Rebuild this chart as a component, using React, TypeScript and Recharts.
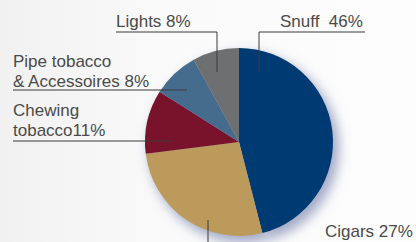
import { PieChart, Pie, Cell, Sector } from "recharts";

// market share by category, clockwise from 12 o'clock
const categories = ["Snuff", "Cigars", "Chewing tobacco", "Pipe tobacco & Accessoires", "Lights"];
const shares = [46, 27, 11, 8, 8];
const labelText = [
  ["Snuff  46%"],
  ["Cigars 27%"],
  ["Chewing", "tobacco11%"],
  ["Pipe tobacco", "& Accessoires 8%"],
  ["Lights 8%"],
];
const colors = ["#003a72", "#bb9a5c", "#79122b", "#466c8d", "#6e6f71"];

const data = categories.map((name, i) => ({ name, value: shares[i], lines: labelText[i] }));

// label placement relative to pie centre
type Layout = {
  tx: number;
  ty: number;
  line: [number, number][];
};
const layout: Record<string, Layout> = {
  Snuff: { tx: 41, ty: -115, line: [[126, -110], [20, -110], [20, -70]] },
  Cigars: { tx: 86, ty: 95, line: [[-31, 78], [-31, 115]] },
  "Chewing tobacco": { tx: -226, ty: -26, line: [[-226, -1], [-68, -1]] },
  "Pipe tobacco & Accessoires": { tx: -226, ty: -75, line: [[-226, -52], [-52, -52]] },
  Lights: { tx: -123, ty: -115, line: [[-123, -110], [-22, -110], [-22, -70]] },
};

const font = "'Liberation Sans', Arial, Helvetica, sans-serif";

function renderLabel(props: any) {
  const { cx, cy, name, payload } = props;
  const l = layout[name];
  if (!l) return null;
  const lines: string[] = payload?.lines ?? [];
  const pts = l.line.map(([x, y]) => `${cx + x},${cy + y}`).join(" ");
  return (
    <g key={name}>
      <polyline points={pts} fill="none" stroke="#3a3a3a" strokeWidth={1} />
      {lines.map((t, i) => (
        <text
          key={i}
          x={cx + l.tx}
          y={cy + l.ty + i * 20}
          fill="#4a4a4a"
          fontSize={17}
          fontFamily={font}
          style={{ whiteSpace: "pre" }}
        >
          {t}
        </text>
      ))}
    </g>
  );
}

export default function App() {
  return (
    <div
      style={{
        position: "absolute",
        left: 0,
        top: 0,
        width: 416,
        height: 242,
        overflow: "hidden",
        background: "linear-gradient(90deg, #f1f1f1 0%, #fafafa 40%, #fdfdfd 100%)",
      }}
    >
      <svg width={0} height={0} style={{ position: "absolute" }}>
        <defs>
          <filter id="pieShadow" x="-30%" y="-30%" width="160%" height="160%">
            <feGaussianBlur stdDeviation={6} />
          </filter>
        </defs>
      </svg>
      <PieChart width={416} height={242} margin={{ top: 0, right: 0, bottom: 0, left: 0 }}>
        <Pie
          data={data}
          dataKey="value"
          nameKey="name"
          cx={244}
          cy={148}
          outerRadius={95}
          startAngle={90}
          endAngle={-270}
          stroke="none"
          isAnimationActive={false}
          shape={(p: any) => <Sector {...p} fill="#7e88b0" fillOpacity={0.7} filter="url(#pieShadow)" />}
        />
        <Pie
          data={data}
          dataKey="value"
          nameKey="name"
          cx={239}
          cy={142}
          outerRadius={94}
          startAngle={90}
          endAngle={-270}
          stroke="none"
          label={renderLabel}
          labelLine={false}
          isAnimationActive={false}
        >
          {data.map((d, i) => (
            <Cell key={d.name} fill={colors[i]} />
          ))}
        </Pie>
      </PieChart>
    </div>
  );
}
